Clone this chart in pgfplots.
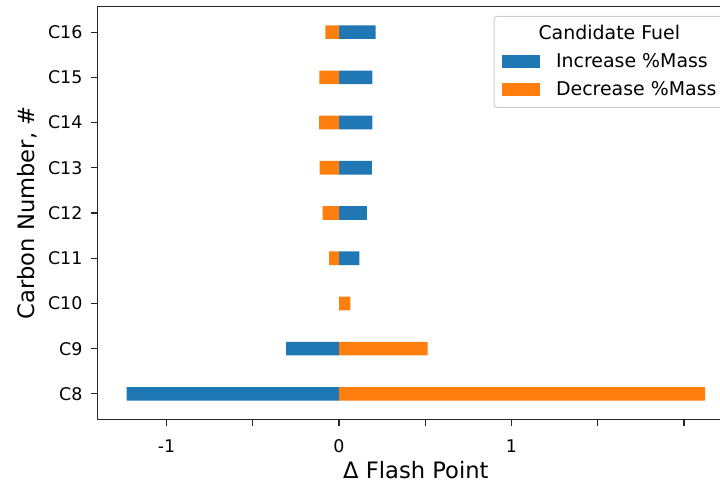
\documentclass[border=0pt]{standalone}
\usepackage{pgfplots}
\usepackage{pgfplotstable}
\pgfplotsset{compat=1.18}
\usepackage{fontspec}
\setmainfont{DejaVu Sans}

\definecolor{mplblue}{HTML}{1F77B4}
\definecolor{mplorange}{HTML}{FF7F0E}
\definecolor{spine}{HTML}{262626}

% change in flash point per carbon number (C8 = 0 ... C16 = 8)
\pgfplotstableread{
pos inc dec
0 -1.232 2.122
1 -0.307 0.514
2 0.004 0.066
3 0.118 -0.058
4 0.162 -0.095
5 0.190 -0.112
6 0.193 -0.116
7 0.193 -0.114
8 0.213 -0.079
}\fueldata

\pgfplotsset{
  patchlegend/.style={legend image code/.code={\fill[##1, sharp corners] (0bp,-6.5bp) rectangle (38bp,6.5bp);}},
}

\begin{document}
\begin{tikzpicture}
\useasboundingbox (-97.7bp,-65.5bp) rectangle (622.3bp,419.5bp);
\clip (-97.7bp,-65.5bp) rectangle (622.3bp,419.5bp);
\begin{axis}[
  at={(0bp,0bp)}, anchor=south west,
  scale only axis, width=636.3bp, height=413bp,
  xmin=-1.399, xmax=2.29, ymin=-0.565, ymax=8.565,
  axis line style={spine, line width=1.1bp},
  tick style={spine, line width=1.1bp},
  tick align=outside, major tick length=6.5bp,
  tick pos=left,
  xtick={-1,-0.5,0,0.5,1,1.5,2},
  xticklabels={-1,,0,,1,,},
  ytick={0,1,2,3,4,5,6,7,8},
  yticklabels={C8,C9,C10,C11,C12,C13,C14,C15,C16},
  tick label style={font=\fontsize{17.5}{21}\selectfont, inner sep=0pt},
  xticklabel style={anchor=base, yshift=-26bp},
  yticklabel style={anchor=east, xshift=-8.6bp},
  xlabel={Δ Flash Point},
  ylabel={Carbon Number, \#},
  label style={font=\fontsize{22.7}{27}\selectfont, inner sep=0pt},
  xlabel style={at={(axis description cs:0.5,0)}, anchor=center, yshift=-50.5bp},
  ylabel style={at={(axis description cs:0,0.5)}, anchor=center, yshift=70bp},
  legend style={
    at={(rel axis cs:1,1)}, anchor=north east, xshift=-9bp, yshift=-9.5bp,
    draw=black!20, line width=1bp, rounded corners=3bp, fill=white,
    font=\fontsize{19}{23}\selectfont,
    inner xsep=8bp, inner ysep=10bp,
    row sep=12.6bp, column sep=16bp,
    nodes={inner sep=0pt},
    label={[font=\fontsize{19}{23}\selectfont, inner sep=0pt, anchor=north, yshift=-8.8bp]north:Candidate Fuel},
  },
  legend cell align=left,
]
\addlegendimage{empty legend}
\addlegendentry{\rule{0pt}{13.2bp}}
\addplot[xbar, bar width=0.3, bar shift=0pt, fill=mplblue, draw=none, patchlegend]
  table[x=inc, y=pos] {\fueldata};
\addlegendentry{Increase \%Mass}
\addplot[xbar, bar width=0.3, bar shift=0pt, fill=mplorange, draw=none, patchlegend]
  table[x=dec, y=pos] {\fueldata};
\addlegendentry{Decrease \%Mass}
\end{axis}
\end{tikzpicture}
\end{document}
